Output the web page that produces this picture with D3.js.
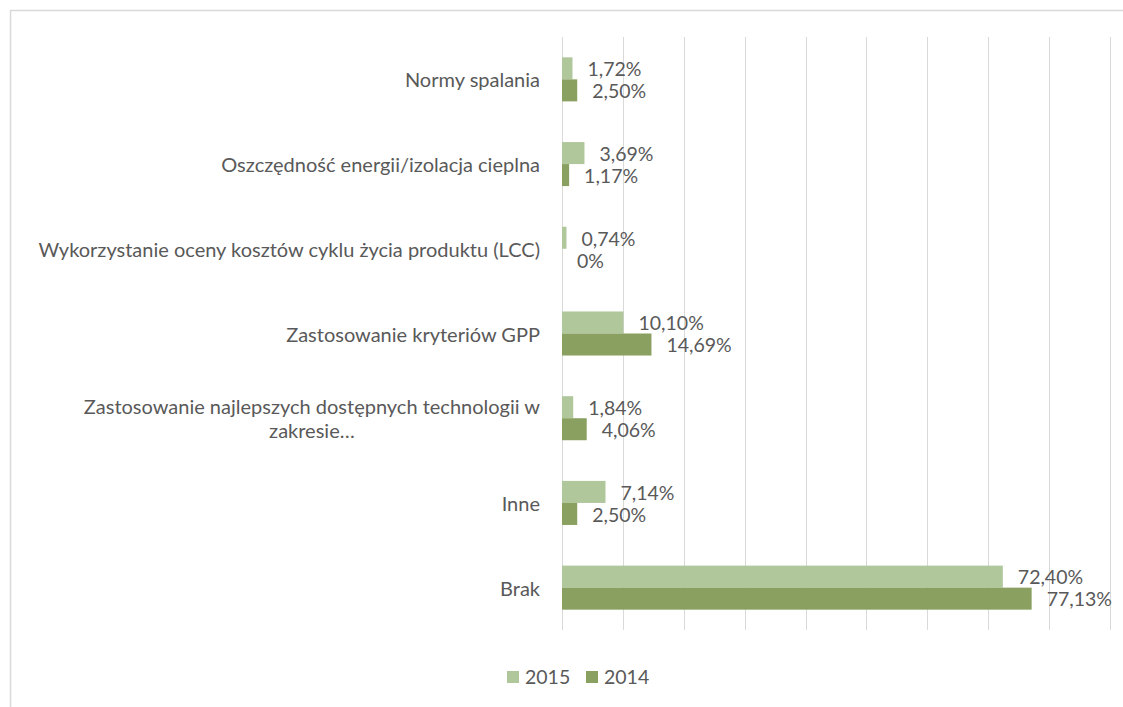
<!DOCTYPE html>
<html lang="pl">
<head>
    <meta charset="UTF-8">
    <title>Wykres słupkowy</title>
    <script src="https://d3js.org/d3.v7.min.js"></script>
    <style>
        body { margin: 0; background: #fff; }
        svg { display: block; font-family: Lato, "Open Sans", sans-serif; }
        .grid line { stroke: #d9d9d9; stroke-width: 1; }
        text { fill: #595959; }
    </style>
</head>
<body>
    <svg width="1123" height="707"></svg>

    <script>
        // dane
        const categories = [
            "Normy spalania",
            "Oszczędność energii/izolacja cieplna",
            "Wykorzystanie oceny kosztów cyklu życia produktu (LCC)",
            "Zastosowanie kryteriów GPP",
            "Zastosowanie najlepszych dostępnych technologii w zakresie…",
            "Inne",
            "Brak"
        ];
        const series = ["2015", "2014"];
        const values2015 = [1.72, 3.69, 0.74, 10.10, 1.84, 7.14, 72.40];
        const values2014 = [2.50, 1.17, 0, 14.69, 4.06, 2.50, 77.13];
        const labels2015 = ["1,72%", "3,69%", "0,74%", "10,10%", "1,84%", "7,14%", "72,40%"];
        const labels2014 = ["2,50%", "1,17%", "0%", "14,69%", "4,06%", "2,50%", "77,13%"];
        const gridTicks = [0, 10, 20, 30, 40, 50, 60, 70, 80, 90];

        const colors = { "2015": "#b0c79c", "2014": "#8aa060" };

        const svg = d3.select("svg");
        const plotLeft = 562, plotRight = 1110, plotTop = 37, plotBottom = 630;

        // ramka wykresu
        svg.append("rect")
            .attr("x", 10.5).attr("y", 10.5)
            .attr("width", 1200).attr("height", 800)
            .attr("fill", "none")
            .attr("stroke", "#d9d9d9")
            .attr("stroke-width", 1.5);

        const x = d3.scaleLinear().domain([0, 90]).range([plotLeft, plotRight]);
        const y0 = d3.scaleBand().domain(categories).range([plotTop, plotBottom])
            .paddingInner(0.48).paddingOuter(0.24);
        const y1 = d3.scaleBand().domain(series).range([0, y0.bandwidth()]);

        svg.append("g").attr("class", "grid")
            .selectAll("line")
            .data(gridTicks)
            .join("line")
            .attr("x1", d => Math.round(x(d)) + 0.5)
            .attr("x2", d => Math.round(x(d)) + 0.5)
            .attr("y1", plotTop)
            .attr("y2", plotBottom);

        const rows = categories.map((c, i) => ({
            cat: c,
            bars: [
                { s: "2015", v: values2015[i], label: labels2015[i] },
                { s: "2014", v: values2014[i], label: labels2014[i] }
            ]
        }));

        const group = svg.append("g").selectAll("g")
            .data(rows)
            .join("g")
            .attr("transform", d => `translate(0,${y0(d.cat)})`);

        group.selectAll("rect")
            .data(d => d.bars)
            .join("rect")
            .attr("x", x(0))
            .attr("y", d => y1(d.s))
            .attr("width", d => x(d.v) - x(0))
            .attr("height", y1.bandwidth())
            .attr("fill", d => colors[d.s]);

        group.selectAll("text.val")
            .data(d => d.bars)
            .join("text")
            .attr("class", "val")
            .attr("x", d => x(d.v) + 15)
            .attr("y", d => y1(d.s) + y1.bandwidth() / 2 + 1)
            .attr("dy", "0.35em")
            .style("font-size", "19.5px")
            .text(d => d.label);

        // etykiety kategorii (zawijane jak w Excelu)
        const maxLabel = 510;
        const labelSize = "20px";
        svg.append("g").selectAll("g")
            .data(categories)
            .join("g")
            .each(function (c) {
                const g = d3.select(this);
                const cy = y0(c) + y0.bandwidth() / 2;
                const probe = g.append("text").style("font-size", labelSize).text(c);
                let lines = [c];
                if (probe.node().getComputedTextLength() > maxLabel) {
                    const words = c.split(" ");
                    lines = [];
                    let cur = "";
                    words.forEach(w => {
                        const t = cur ? cur + " " + w : w;
                        probe.text(t);
                        if (probe.node().getComputedTextLength() > maxLabel && cur) {
                            lines.push(cur);
                            cur = w;
                        } else cur = t;
                    });
                    lines.push(cur);
                }
                const widths = lines.map(l => { probe.text(l); return probe.node().getComputedTextLength(); });
                probe.remove();
                const w = d3.max(widths);
                const lh = 24;
                const cx = 540 - w / 2;
                lines.forEach((l, k) => {
                    g.append("text")
                        .attr("x", cx)
                        .attr("y", cy + 1 + (k - (lines.length - 1) / 2) * lh)
                        .attr("dy", "0.35em")
                        .attr("text-anchor", "middle")
                        .style("font-size", labelSize)
                        .text(l);
                });
            });

        // legenda
        const legend = svg.append("g");
        const legendX = [507, 586];
        series.forEach((s, i) => {
            legend.append("rect")
                .attr("x", legendX[i]).attr("y", 671)
                .attr("width", 12).attr("height", 12)
                .attr("fill", colors[s]);
            legend.append("text")
                .attr("x", legendX[i] + 18).attr("y", 677)
                .attr("dy", "0.35em")
                .style("font-size", "19.5px")
                .text(s);
        });
    </script>
</body>
</html>
